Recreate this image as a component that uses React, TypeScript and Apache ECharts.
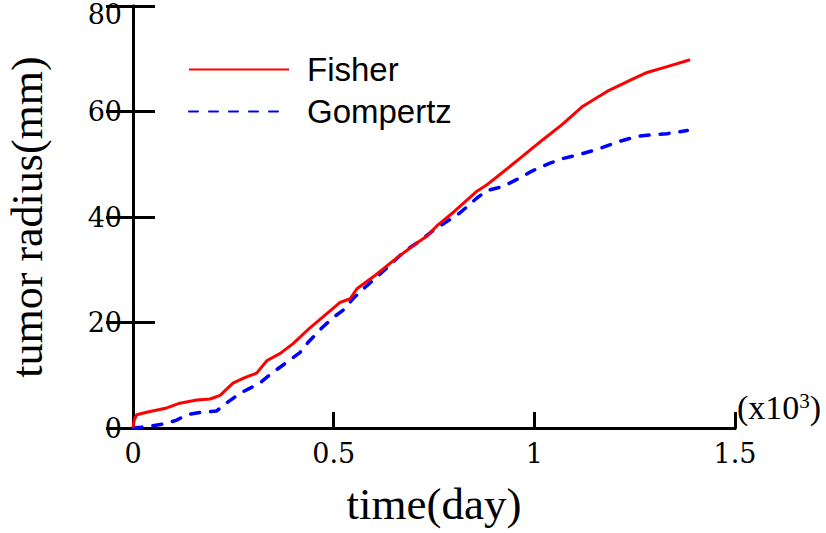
import React, { useEffect, useRef } from "react";
import * as echarts from "echarts";

// time (days) and radius (mm)
const fisherDays = [0, 3, 9, 34, 84, 117, 159, 192, 217, 249, 280, 308, 334, 366, 399, 441, 483, 516, 541, 558, 608, 658, 708, 733, 757, 800, 857, 880, 915, 964, 1022, 1069, 1121, 1181, 1246, 1281, 1331, 1388];
const fisherRadius = [0, 1.5, 2.5, 3, 3.8, 4.7, 5.3, 5.5, 6.2, 8.5, 9.6, 10.4, 12.8, 14.1, 16, 19, 21.7, 23.8, 24.5, 26.4, 29.2, 32.3, 35.1, 36.4, 38.3, 41, 44.9, 46, 48.1, 51.1, 54.7, 57.5, 61, 63.8, 66.2, 67.4, 68.5, 69.8];

const gompertzDays = [0, 40, 80, 109, 134, 170, 208, 225, 267, 316, 346, 384, 416, 436, 471, 498, 523, 548, 583, 616, 646, 678, 716, 747, 815, 857, 882, 922, 964, 994, 1039, 1072, 1119, 1164, 1206, 1256, 1281, 1331, 1381];
const gompertzRadius = [0, 0.3, 0.8, 1.5, 2.5, 3, 3.2, 4.3, 6.6, 8.5, 10.4, 12.5, 14.3, 16.2, 19, 20.9, 22.3, 24.5, 27, 29.2, 31.3, 33.6, 35.5, 37.4, 40.8, 43.6, 45, 45.8, 47.4, 48.7, 50.2, 51.1, 52, 53, 54.2, 55.3, 55.5, 55.8, 56.4];

const seriesNames = ["Fisher", "Gompertz"];
const xAxisTitle = "time(day)";
const yAxisTitle = "tumor radius(mm)";

const pairs = (xs: number[], ys: number[]) => xs.map((x, i) => [x, ys[i]]);

export default function App() {
  const ref = useRef<HTMLDivElement>(null);
  useEffect(() => {
    if (!ref.current) return;
    const chart = echarts.init(ref.current, null, { renderer: "svg" });
    const serif = "Liberation Serif";
    const tickFont = "DejaVu Serif";
    chart.setOption({
      animation: false,
      backgroundColor: "#fff",
      grid: { left: 133, right: 91, top: 6, bottom: 105, containLabel: false, outerBoundsMode: "none" },
      legend: {
        orient: "vertical",
        left: 183,
        top: 48,
        itemWidth: 100,
        itemHeight: 2,
        itemGap: 9,
        itemStyle: { color: "rgba(0,0,0,0)", borderWidth: 0 },
        textStyle: { fontFamily: "Liberation Sans", fontSize: 33, color: "#000", padding: [0, 0, 0, 13] },
        data: seriesNames,
      },
      xAxis: [
        {
          type: "value",
          position: "bottom",
          min: 0,
          max: 1500,
          interval: 500,
          name: xAxisTitle,
          nameLocation: "middle",
          nameGap: 53,
          nameTextStyle: { fontFamily: serif, fontSize: 45, color: "#000" },
          axisLine: { show: true, lineStyle: { color: "#000", width: 3 } },
          axisTick: { show: true, inside: true, length: 16, lineStyle: { color: "#000", width: 3 } },
          axisLabel: {
            fontFamily: tickFont,
            fontSize: 27,
            color: "#000",
            margin: 12,
            formatter: (v: number) => String(v / 1000),
          },
          splitLine: { show: false },
        },
        {
          type: "value",
          position: "top",
          min: 0,
          max: 1500,
          axisLine: { show: true, lineStyle: { color: "#000", width: 3 } },
          axisTick: { show: false },
          axisLabel: { show: false },
          splitLine: { show: false },
        },
      ],
      yAxis: [
        {
          type: "value",
          position: "left",
          min: 0,
          max: 80,
          interval: 20,
          name: yAxisTitle,
          nameLocation: "middle",
          nameGap: 84,
          nameTextStyle: { fontFamily: serif, fontSize: 44, color: "#000" },
          axisLine: { show: true, lineStyle: { color: "#000", width: 3 } },
          axisTick: { show: true, inside: true, length: 22, lineStyle: { color: "#000", width: 3 } },
          axisLabel: {
            fontFamily: tickFont,
            fontSize: 27,
            color: "#000",
            margin: 11,
            lineHeight: 16,
            formatter: (v: number) => (v === 80 ? "\n80" : String(v)),
          },
          splitLine: { show: false },
        },
        {
          type: "value",
          position: "right",
          min: 0,
          max: 80,
          interval: 20,
          axisLine: { show: true, lineStyle: { color: "#000", width: 3 } },
          axisTick: { show: true, inside: true, length: 27, lineStyle: { color: "#000", width: 3 } },
          axisLabel: { show: false },
          splitLine: { show: false },
        },
      ],
      graphic: [
        {
          type: "text",
          left: 737,
          top: 390,
          style: {
            text: "(x10{sup|3})",
            fontFamily: serif,
            fontSize: 34,
            fill: "#000",
            rich: { sup: { fontFamily: serif, fontSize: 21, fill: "#000", verticalAlign: "top", padding: [0, 0, 12, 0] } },
          },
        },
      ],
      series: [
        {
          name: seriesNames[0],
          type: "line",
          data: pairs(fisherDays, fisherRadius),
          symbol: "none",
          showSymbol: false,
          lineStyle: { color: "#ff0000", width: 3 },
          itemStyle: { color: "#ff0000" },
          z: 3,
        },
        {
          name: seriesNames[1],
          type: "line",
          data: pairs(gompertzDays, gompertzRadius),
          symbol: "none",
          showSymbol: false,
          lineStyle: { color: "#0000ff", width: 3.5, type: [9, 11], cap: "round" },
          itemStyle: { color: "#0000ff" },
          z: 2,
        },
      ],
    });
    return () => chart.dispose();
  }, []);
  return <div ref={ref} style={{ position: "fixed", left: 0, top: 0, width: 826, height: 533 }} />;
}
